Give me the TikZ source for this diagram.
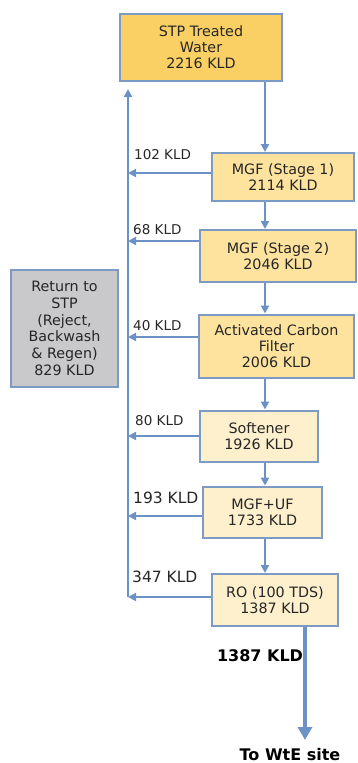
\documentclass[tikz,border=0pt]{standalone}
\usepackage{fontspec}
\setmainfont{DejaVu Sans}
\usepackage{tikz}
\usetikzlibrary{arrows.meta,positioning,calc}
\definecolor{edgeblue}{RGB}{124,154,196}
\definecolor{flowblue}{RGB}{108,145,196}
\definecolor{stpgold}{RGB}{250,208,100}
\definecolor{midyellow}{RGB}{253,227,158}
\definecolor{paleyellow}{RGB}{254,240,204}
\definecolor{returngray}{RGB}{201,201,203}
\definecolor{inkgray}{RGB}{38,38,38}
\newcommand{\unitfont}{\fontsize{14.3}{16}\selectfont}
\newcommand{\kldfont}{\fontsize{13.5}{16}\selectfont}
\newcommand{\bigfont}{\fontsize{15.5}{18}\selectfont}
\newcommand{\boldfont}{\bfseries\fontsize{16}{19}\selectfont}

\begin{document}
\begin{tikzpicture}[x=1pt,y=-1pt,
  unit/.style={draw=edgeblue, line width=2pt, align=center, text=inkgray, font=\unitfont, inner sep=2pt},
  flow/.style={draw=flowblue, line width=2pt, -{Triangle[length=8pt,width=8pt]}},
  outflow/.style={draw=flowblue, line width=4.5pt, -{Triangle[length=13pt,width=14pt]}},
  kld/.style={anchor=west, text=inkgray, font=\kldfont, inner sep=0pt}]
\useasboundingbox (0,0) rectangle (357,763);
\coordinate (spine) at (128,0);
\coordinate (col) at (265,0);
\coordinate (wte) at (305,740);
% treatment train
\node[unit, fill=stpgold, minimum width=162pt, minimum height=67pt] (stp) at (201,47.5) {STP Treated\\Water\\2216 KLD};
\node[unit, fill=midyellow, minimum width=142pt, minimum height=48pt] (mgfa) at (283,177) {MGF (Stage 1)\\2114 KLD};
\node[unit, fill=midyellow, minimum width=156pt, minimum height=52pt] (mgfb) at (278,256) {MGF (Stage 2)\\2046 KLD};
\node[unit, fill=midyellow, minimum width=155pt, minimum height=63pt] (acf) at (276.5,346) {Activated Carbon\\Filter\\2006 KLD};
\node[unit, fill=paleyellow, minimum width=118pt, minimum height=51pt] (soft) at (259,436) {Softener\\1926 KLD};
\node[unit, fill=paleyellow, minimum width=119pt, minimum height=51pt] (mgfuf) at (262.5,512) {MGF+UF\\1733 KLD};
\node[unit, fill=paleyellow, minimum width=126pt, minimum height=52pt] (ro) at (275,600) {RO (100 TDS)\\1387 KLD};
% return box
\node[unit, fill=returngray, minimum width=107pt, minimum height=117pt, font=\fontsize{14.3}{16.7}\selectfont] (ret) at (64.5,328.5) {Return to\\STP\\(Reject,\\Backwash\\\& Regen)\\829 KLD};
% main flow
\draw[flow] (stp.south -| col) -- (mgfa.north -| col);
\draw[flow] (mgfa.south -| col) -- (mgfb.north -| col);
\draw[flow] (mgfb.south -| col) -- (acf.north -| col);
\draw[flow] (acf.south -| col) -- (soft.north -| col);
\draw[flow] (soft.south -| col) -- (mgfuf.north -| col);
\draw[flow] (mgfuf.south -| col) -- (ro.north -| col);
\draw[outflow] (ro.south -| wte) -- (wte);
% rejects back to STP
\draw[flow] ($(ro.west -| spine)+(0,-3)$) -- ($(stp.south -| spine)+(0,7)$);
\draw[flow] ([yshift=4pt]mgfa.west) -- ([yshift=4pt]mgfa.west -| spine);
\draw[flow] ([yshift=15pt]mgfb.west) -- ([yshift=15pt]mgfb.west -| spine);
\draw[flow] ([yshift=9pt]acf.west) -- ([yshift=9pt]acf.west -| spine);
\draw[flow] (soft.west) -- (soft.west -| spine);
\draw[flow] ([yshift=-4pt]mgfuf.west) -- ([yshift=-4pt]mgfuf.west -| spine);
\draw[flow] ([yshift=3pt]ro.west) -- ([yshift=3pt]ro.west -| spine);
% flow labels
\node[kld] (k102) at (134,155) {102 KLD};
\node[kld] (k68) at (133,230) {68 KLD};
\node[kld] (k40) at (133,326) {40 KLD};
\node[kld] (k80) at (135,421) {80 KLD};
\node[kld, font=\bigfont] (k193) at (133,498) {193 KLD};
\node[kld, font=\bigfont] (k347) at (132,577) {347 KLD};
\node[font=\boldfont, inner sep=0pt] (rokld) at (260,656) {1387 KLD};
\node[font=\boldfont, inner sep=0pt, anchor=base] (site) at (290,760) {To WtE site};
\end{tikzpicture}
\end{document}
